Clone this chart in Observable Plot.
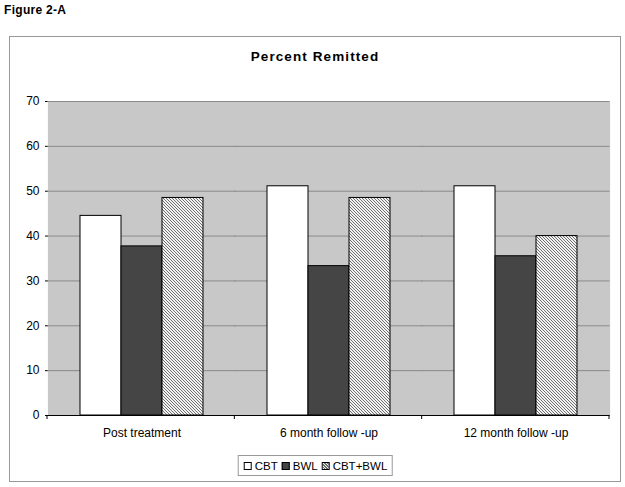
<!DOCTYPE html>
<html><head><meta charset="utf-8">
<script src="https://cdn.jsdelivr.net/npm/d3@7"></script>
<script src="https://cdn.jsdelivr.net/npm/@observablehq/plot@0.6"></script>
<style>
body{margin:0;width:625px;height:487px;position:relative;background:white;font-family:'Liberation Sans',Arial,sans-serif;overflow:hidden;color:#000}
#fig{position:absolute;left:4px;top:3px;font-size:12px;font-weight:bold;letter-spacing:0.3px}
#box{position:absolute;left:9px;top:36px;width:610px;height:444px;border:1px solid #999}
#title{position:absolute;left:9px;width:612px;top:49px;text-align:center;font-size:13.5px;font-weight:bold;letter-spacing:1.1px}
#chart{position:absolute;left:0;top:0}
#legend{position:absolute;left:315px;top:455px;transform:translateX(-50%);border:1px solid #999;height:19px;padding:0 4px 0 5px;display:flex;align-items:center;font-size:11.5px;white-space:nowrap;background:white}
.sw{display:inline-block;width:6px;height:6px;border:1px solid #000;margin-right:3px}
.item{display:flex;align-items:center;margin-right:4px}
.item:last-child{margin-right:0}
</style>
</head><body>
<svg width="0" height="0" style="position:absolute">
  <defs>
    <pattern id="hatch" patternUnits="userSpaceOnUse" width="3" height="3">
      <rect width="3" height="3" fill="#f2f2f2"></rect>
      <path d="M-1,-1 L4,4 M-1,2 L1,4 M2,-1 L4,1" stroke="#707070" stroke-width="1"></path>
    </pattern>
  </defs>
</svg>
<div id="fig">Figure 2-A</div>
<div id="box"></div>
<div id="chart"></div>
<div id="title">Percent Remitted</div>
<div id="legend"></div>
<script>
const groups = ["Post treatment", "6 month follow -up", "12 month follow -up"];
const series = ["CBT", "BWL", "CBT+BWL"];
const cbt = [44.5, 51.1, 51.1];
const bwl = [37.7, 33.3, 35.5];
const cbtBwl = [48.5, 48.5, 40.0];
const yTicks = [0, 10, 20, 30, 40, 50, 60, 70];

const seriesValues = [cbt, bwl, cbtBwl];
const fills = {"CBT": "white", "BWL": "#454545", "CBT+BWL": "url(#hatch)"};

const rows = groups.flatMap((g, i) => series.map((s, j) => ({group: g, series: s, value: seriesValues[j][i]})));

const plot = Plot.plot({
  width: 625,
  height: 487,
  marginLeft: 47,
  marginRight: 16,
  marginTop: 101,
  marginBottom: 72,
  style: {fontFamily: "'Liberation Sans', Arial, sans-serif", fontSize: "12px", background: "transparent", overflow: "visible", color: "#000"},
  facet: {data: rows, x: "group"},
  fx: {domain: groups, padding: 0, label: null, axis: "bottom", tickSize: 0, tickPadding: 13},
  x: {domain: series, paddingInner: 0, paddingOuter: 0.768, axis: null},
  y: {domain: [0, 70], ticks: yTicks, tickSize: 3, tickPadding: 6, label: null, line: true},
  color: {type: "identity"},
  marks: [
    Plot.frame({fill: "#c8c8c8", stroke: "none", insetLeft: -0.6, insetRight: -0.6}),
    Plot.ruleY(yTicks.filter(d => d > 0), {stroke: "#8a8a8a", strokeWidth: 1, insetLeft: -0.6, insetRight: -0.6}),
    Plot.barY(rows, {x: "series", y: "value", fill: d => fills[d.series], stroke: "#000", strokeWidth: 1}),
    Plot.ruleY([0], {stroke: "#000", strokeWidth: 1, insetLeft: -0.6, insetRight: -0.6})
  ]
});
document.getElementById("chart").appendChild(plot);

// group boundary tick marks on the category axis, positioned from the fx scale
const fx = plot.scale("fx");
const band = d3.scaleBand().domain(fx.domain).range(fx.range).padding(0);
const y = plot.scale("y");
const y0 = d3.scaleLinear().domain(y.domain).range(y.range)(0);
const edges = fx.domain.map(d => band(d)).concat([band(fx.domain[fx.domain.length - 1]) + band.bandwidth()]);
d3.select(plot).append("g").selectAll("line").data(edges).join("line")
  .attr("x1", d => d).attr("x2", d => d)
  .attr("y1", y0).attr("y2", y0 + 4)
  .attr("stroke", "#000");

// legend
const lg = d3.select("#legend");
series.forEach(s => {
  const it = lg.append("div").attr("class", "item");
  it.append("span").attr("class", "sw").style("background", s === "CBT+BWL" ? "repeating-linear-gradient(45deg,#f2f2f2 0 1px,#707070 1px 2px)" : fills[s]);
  it.append("span").text(s);
});
</script>
</body></html>
